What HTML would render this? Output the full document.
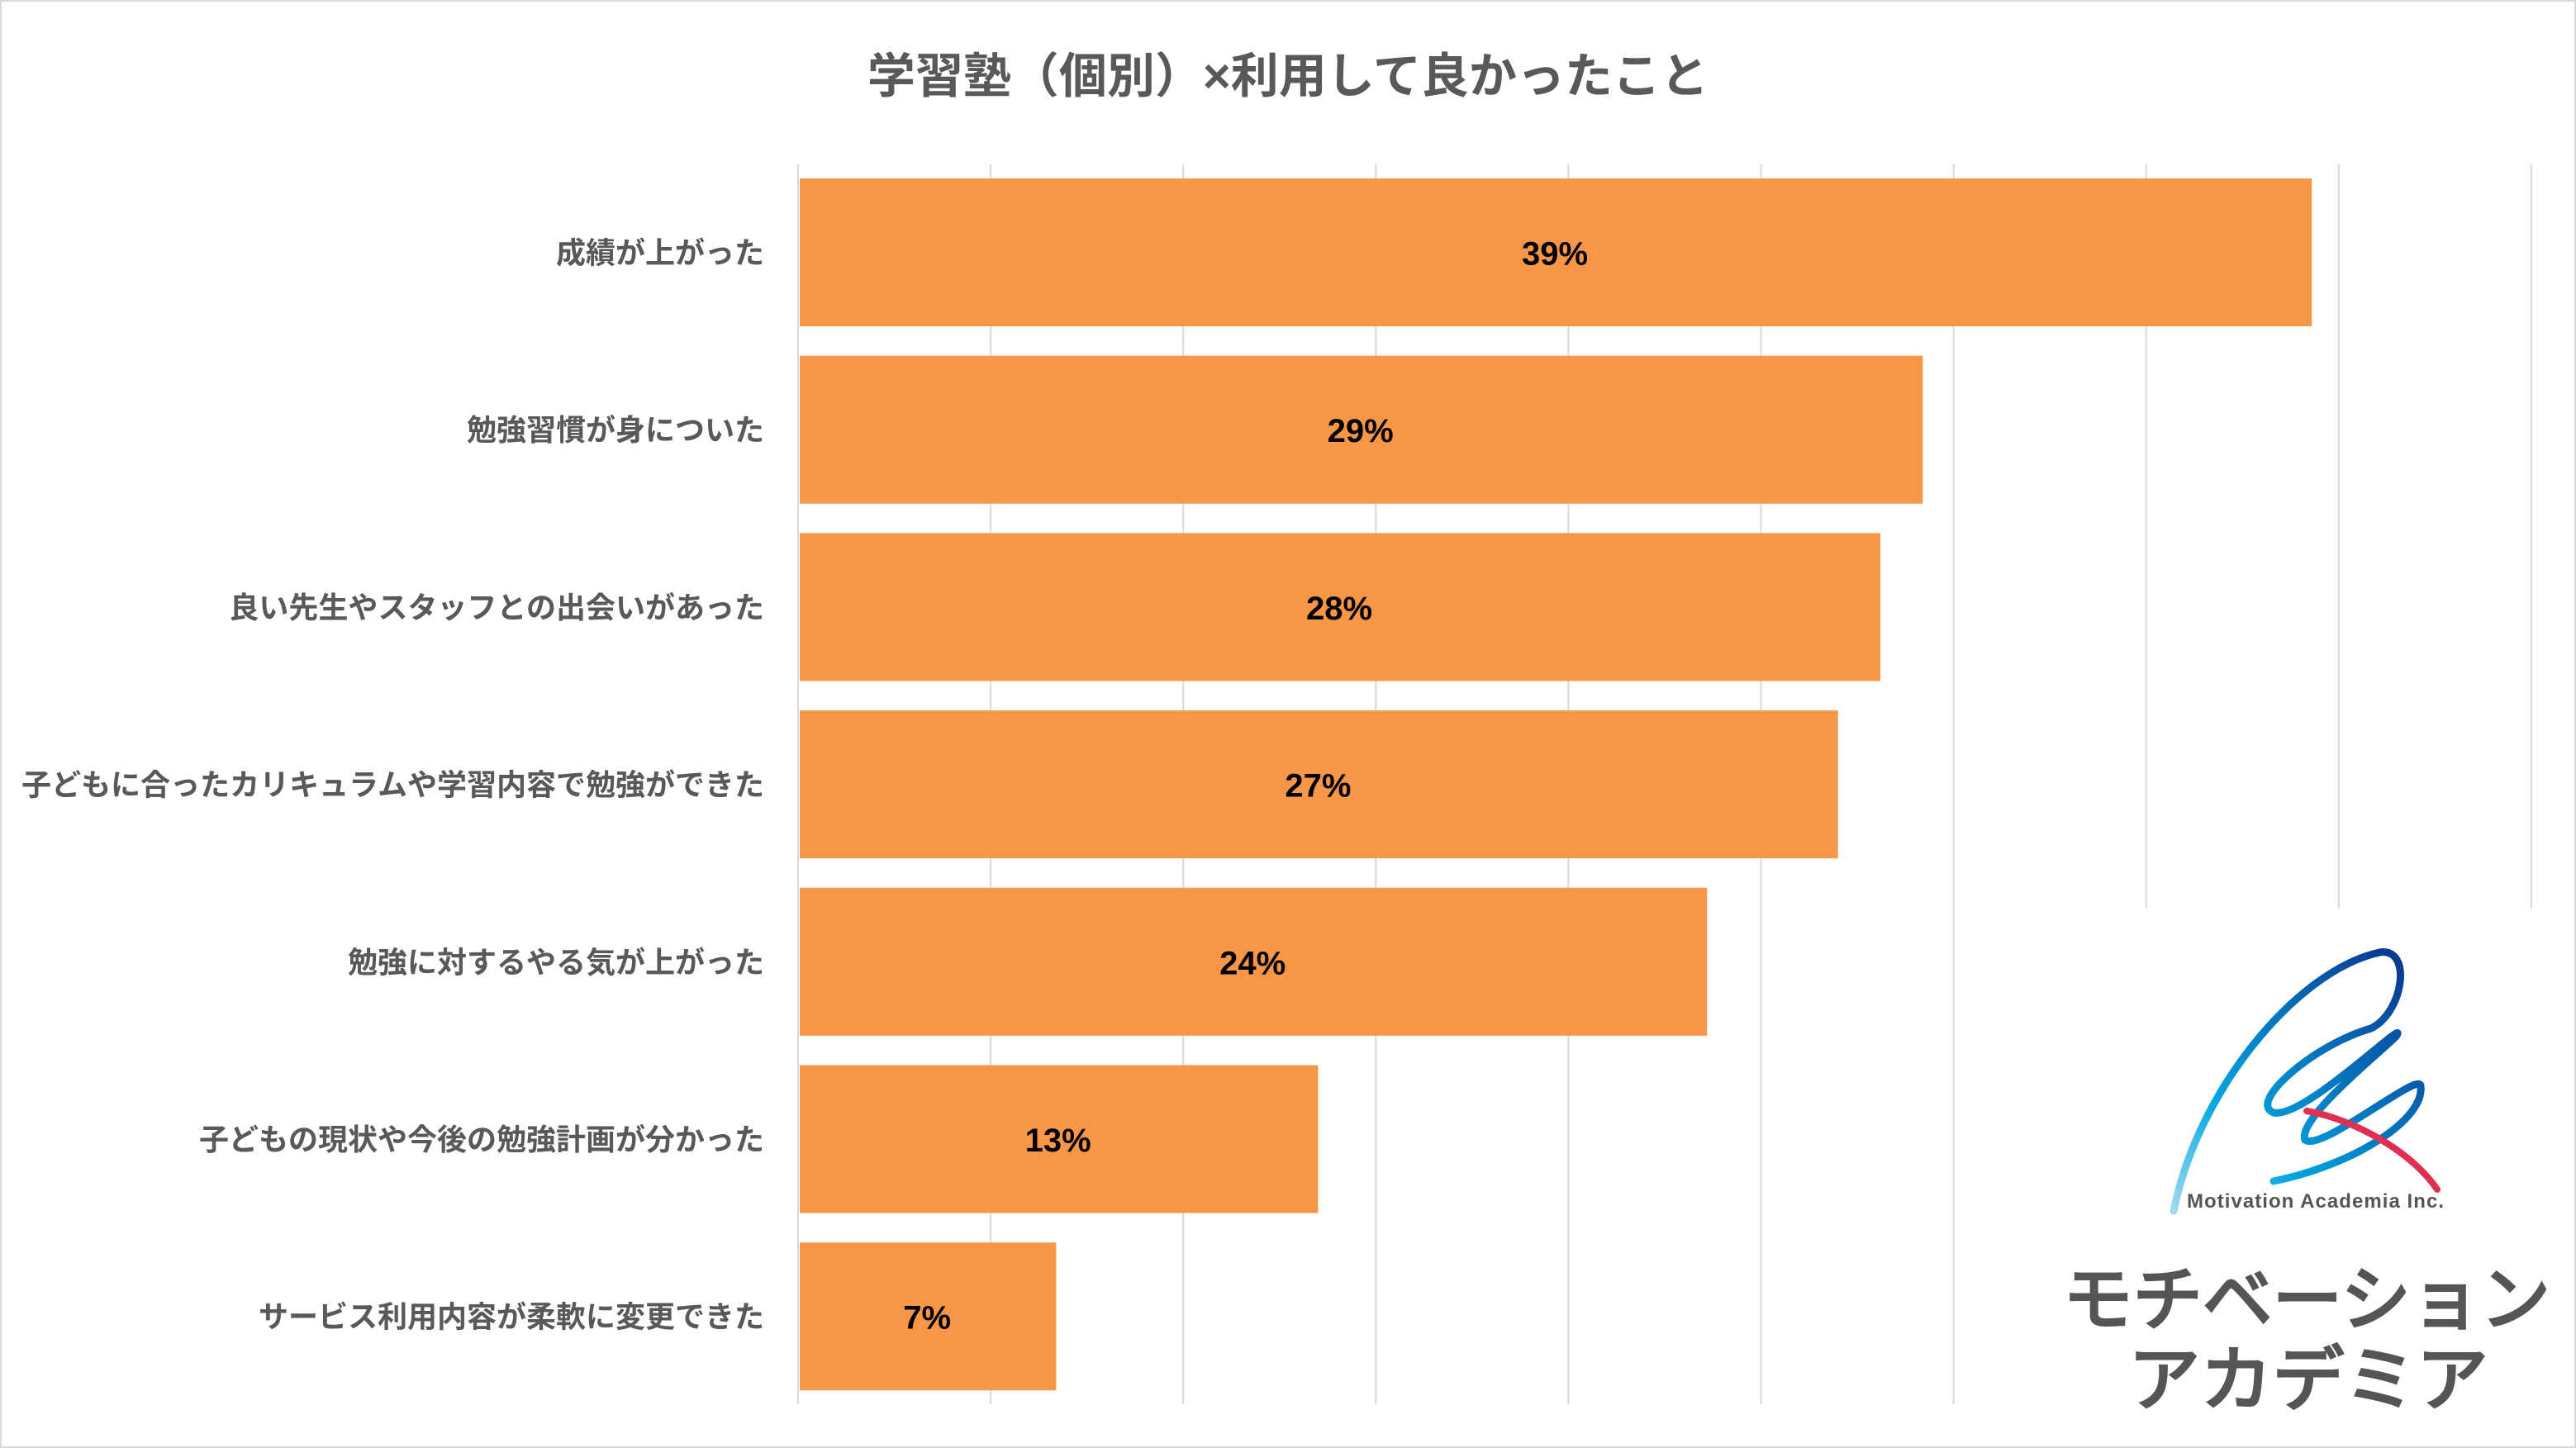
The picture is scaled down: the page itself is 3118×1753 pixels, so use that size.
<!DOCTYPE html>
<html><head><meta charset="utf-8"><style>
html,body{margin:0;padding:0;background:#fff;}
svg{display:block;font-family:"Liberation Sans","Noto Sans CJK JP",sans-serif;}
</style></head><body>
<svg id="chart" width="3118" height="1753" viewBox="0 0 3118 1753" xmlns="http://www.w3.org/2000/svg">
<rect x="1" y="1" width="3116" height="1751" fill="#fff" stroke="#d9d9d9" stroke-width="2"/>
<text x="1559" y="112" text-anchor="middle" font-size="58" font-weight="bold" fill="#595959">学習塾（個別）×利用して良かったこと</text>
<g id="grid"></g>
<g id="bars"></g>
<g id="logo">
<rect x="2475" y="1100" width="640" height="650" fill="#fff"/>
<defs><linearGradient id="sw" x1="0" y1="1" x2="1" y2="0"><stop offset="0" stop-color="#9fd9ef"/><stop offset="0.3" stop-color="#00a6e0"/><stop offset="1" stop-color="#0a2f8a"/></linearGradient></defs>
<path d="M2631,1466 C2660,1320 2780,1175 2880,1153 C2920,1146 2910,1225 2870,1245 C2800,1265 2720,1335 2752,1347 C2790,1355 2920,1225 2900,1255 C2880,1275 2780,1355 2790,1380 C2810,1395 2930,1295 2930,1315 C2935,1355 2850,1410 2752,1430" fill="none" stroke="url(#sw)" stroke-width="9" stroke-linecap="round"/>
<path d="M2792,1345 C2850,1355 2920,1395 2950,1440" fill="none" stroke="#e0304f" stroke-width="8" stroke-linecap="round"/>
<text x="2647" y="1462" font-size="24" font-weight="bold" fill="#555" textLength="311">Motivation Academia Inc.</text>
<text x="2497" y="1603" font-size="86" fill="#555" stroke="#555" stroke-width="3" textLength="590" lengthAdjust="spacingAndGlyphs">モチベーション</text>
<text x="2576" y="1700" font-size="86" fill="#555" stroke="#555" stroke-width="3" textLength="436" lengthAdjust="spacingAndGlyphs">アカデミア</text>
</g>
</svg>
<script>
const categories = ["成績が上がった","勉強習慣が身についた","良い先生やスタッフとの出会いがあった","子どもに合ったカリキュラムや学習内容で勉強ができた","勉強に対するやる気が上がった","子どもの現状や今後の勉強計画が分かった","サービス利用内容が柔軟に変更できた"];
const values = [39.3, 29.2, 28.1, 27.0, 23.6, 13.5, 6.7];
const labels = ["39%","29%","28%","27%","24%","13%","7%"];
const gridTicks = [0,5,10,15,20,25,30,35,40,45];
const NS="http://www.w3.org/2000/svg";
const x0=966, pxPer=46.62, top0=216, pitch=214.7, barH=179;
const xs=v=>x0+v*pxPer;
const grid=document.getElementById('grid'), bars=document.getElementById('bars');
gridTicks.forEach((t,i)=>{
  const l=document.createElementNS(NS,'line');
  
  
  const x=xs(t);
  l.setAttribute('x1',x);l.setAttribute('x2',x);
  l.setAttribute('y1',199);l.setAttribute('y2',1700);
  l.setAttribute('stroke','#d9d9d9');l.setAttribute('stroke-width',2);
  grid.appendChild(l);
});
values.forEach((v,i)=>{
  const y=top0+i*pitch;
  const r=document.createElementNS(NS,'rect');
  
  
  r.setAttribute('x',xs(0)+2);r.setAttribute('y',y);
  r.setAttribute('width',xs(v)-xs(0)-2);r.setAttribute('height',barH);
  r.setAttribute('fill','#F79646');
  bars.appendChild(r);
  const t=document.createElementNS(NS,'text');
  
  
  t.setAttribute('x',(xs(0)+xs(v))/2);t.setAttribute('y',y+barH/2+15);
  t.setAttribute('text-anchor','middle');t.setAttribute('font-size','40');
  t.setAttribute('font-weight','bold');t.setAttribute('fill','#000');
  t.textContent=labels[i];
  bars.appendChild(t);
  const c=document.createElementNS(NS,'text');
  
  
  c.setAttribute('x',925);c.setAttribute('y',y+barH/2+13);
  c.setAttribute('text-anchor','end');c.setAttribute('font-size','36');
  c.setAttribute('font-weight','bold');c.setAttribute('fill','#595959');
  c.textContent=categories[i];
  bars.appendChild(c);
});
</script>
</body></html>
